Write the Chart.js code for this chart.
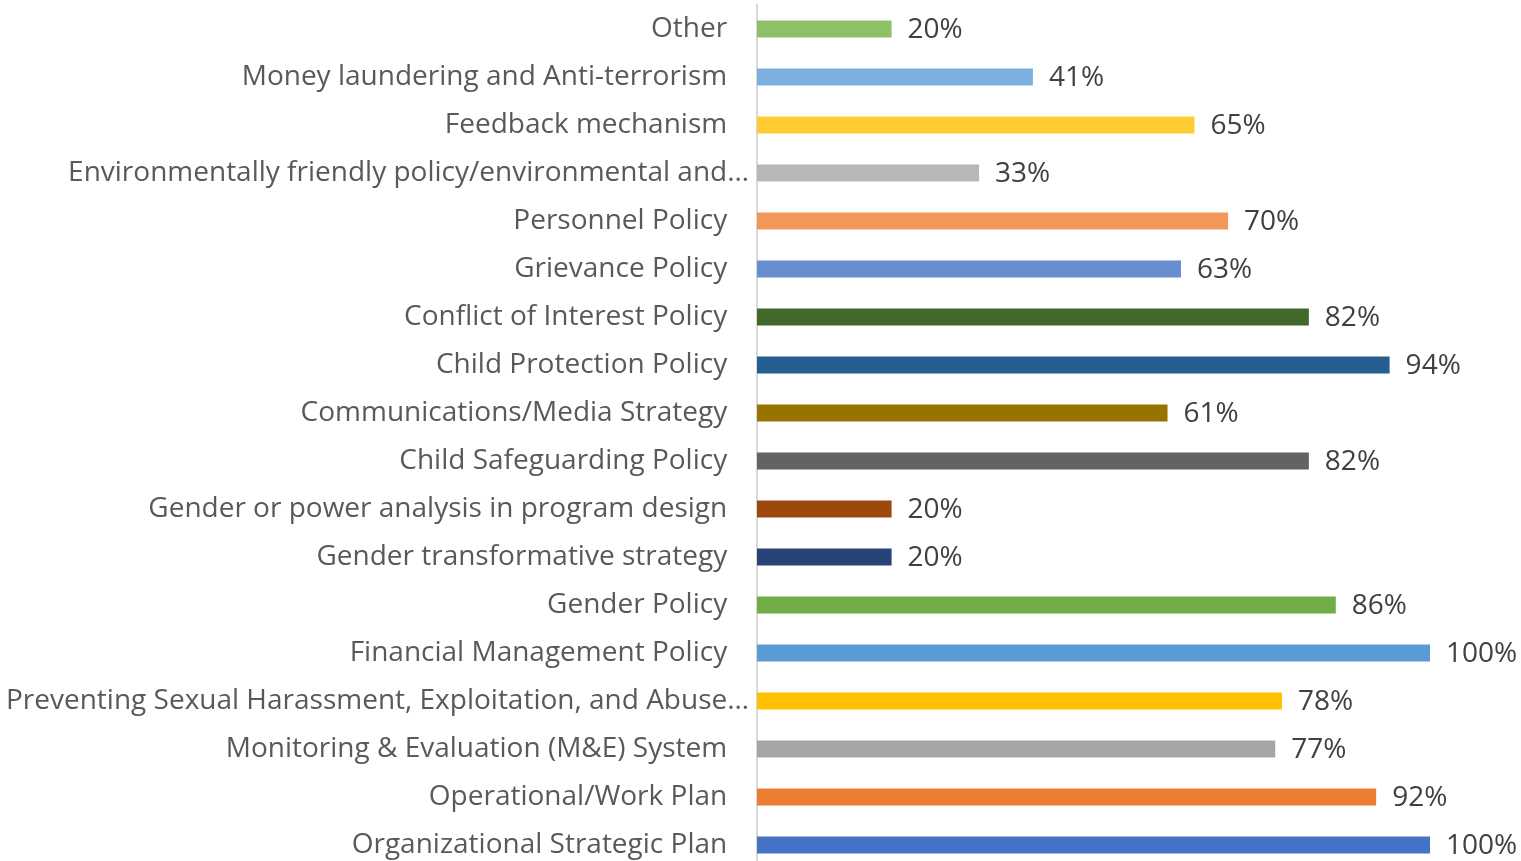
<!DOCTYPE html>
<html>
<head>
<meta charset="utf-8">
<script src="https://cdn.jsdelivr.net/npm/chart.js@4/dist/chart.umd.min.js"></script>
<style>
    html, body { margin: 0; padding: 0; background: #fff; overflow: hidden; }
    #wrap { position: relative; width: 1521px; height: 870px; }
</style>
</head>
<body>
<div id="wrap"><canvas id="policyChart"></canvas></div>
<script>
// Categories listed top to bottom as shown
const categories = [
    'Other',
    'Money laundering and Anti-terrorism',
    'Feedback mechanism',
    'Environmentally friendly policy/environmental and\u2026',
    'Personnel Policy',
    'Grievance Policy',
    'Conflict of Interest Policy',
    'Child Protection Policy',
    'Communications/Media Strategy',
    'Child Safeguarding Policy',
    'Gender or power analysis in program design',
    'Gender transformative strategy',
    'Gender Policy',
    'Financial Management Policy',
    'Preventing Sexual Harassment, Exploitation, and Abuse\u2026',
    'Monitoring & Evaluation (M&E) System',
    'Operational/Work Plan',
    'Organizational Strategic Plan'
];

const percentages = [20, 41, 65, 33, 70, 63, 82, 94, 61, 82, 20, 20, 86, 100, 78, 77, 92, 100];

const barColors = [
    '#8CC168', '#7CAFDD', '#FFCD33', '#B7B7B7', '#F1975A', '#698ED0',
    '#43682B', '#255E91', '#997300', '#636363', '#9E480E', '#264478',
    '#70AD47', '#5B9BD5', '#FFC000', '#A5A5A5', '#ED7D31', '#4472C4'
];

const FONT_FAMILY = '"Open Sans", Lato, sans-serif';
const FONT_SIZE = 28;

// Draw "NN%" to the right of each bar
const valueLabels = {
    id: 'valueLabels',
    afterDatasetsDraw(chart) {
        const ctx = chart.ctx;
        const meta = chart.getDatasetMeta(0);
        ctx.save();
        ctx.font = FONT_SIZE + 'px ' + FONT_FAMILY;
        ctx.fillStyle = '#404040';
        ctx.textAlign = 'left';
        ctx.textBaseline = 'middle';
        meta.data.forEach(function (bar, i) {
            ctx.fillText(percentages[i] + '%', bar.x + 16, bar.y + 1);
        });
        ctx.restore();
    }
};

const canvas = document.getElementById('policyChart');
const chart = new Chart(canvas.getContext('2d'), {
    type: 'bar',
    data: {
        labels: categories,
        datasets: [{
            data: percentages,
            backgroundColor: barColors,
            borderWidth: 0,
            categoryPercentage: 1,
            barPercentage: 0.354
        }]
    },
    options: {
        indexAxis: 'y',
        responsive: true,
        maintainAspectRatio: false,
        animation: false,
        layout: {
            padding: { top: 5, bottom: 1, right: 91, left: 0 }
        },
        plugins: {
            legend: { display: false },
            tooltip: { enabled: false }
        },
        scales: {
            x: {
                display: false,
                min: 0,
                max: 100
            },
            y: {
                // fixed axis width, and no extra vertical padding from tick padding
                afterFit: function (scale) {
                    scale.width = 757;
                    scale.paddingTop = 0;
                    scale.paddingBottom = 0;
                },
                grid: {
                    display: false,
                    drawTicks: false
                },
                border: {
                    display: true,
                    color: '#d9d9d9',
                    width: 2
                },
                ticks: {
                    padding: 8,
                    color: '#595959',
                    autoSkip: false,
                    font: {
                        family: FONT_FAMILY,
                        size: FONT_SIZE
                    },
                    // truncated labels run closer to the axis, like Excel does
                    callback: function (value) {
                        const label = categories[value];
                        return label.endsWith('\u2026') ? label : label + '   ';
                    }
                }
            }
        }
    },
    plugins: [valueLabels]
});
</script>
</body>
</html>
